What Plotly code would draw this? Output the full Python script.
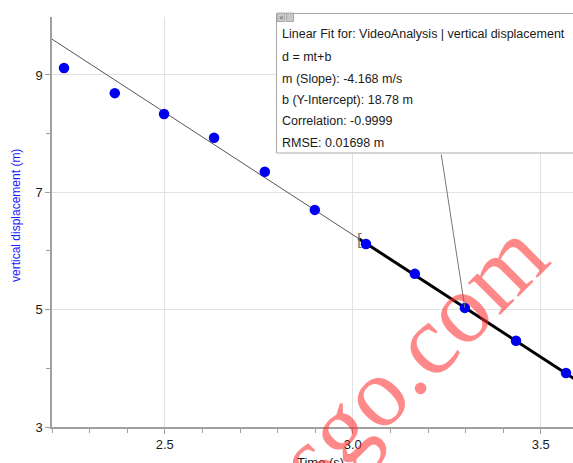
import plotly.graph_objects as go

# Video-analysis samples: time (s) and vertical displacement (m)
time_s = [2.232, 2.367, 2.498, 2.631, 2.766, 2.899, 3.035, 3.165, 3.298, 3.434, 3.567]
displacement_m = [9.12, 8.69, 8.335, 7.93, 7.35, 6.70, 6.12, 5.61, 5.03, 4.47, 3.92]

# Linear fit parameters d = m t + b
slope = -4.168
intercept = 18.78
correlation = -0.9999
rmse = 0.01698

x_range = [2.2, 3.5856]
y_range = [3.0, 9.988]
fit_start = 3.015           # start of the selected fit region
fit_span_all = [2.2, 3.6]
fit_span_sel = [fit_start, 3.6]
linked_point = 8            # sample that the fit box points to

box_lines = [
    "Linear Fit for: VideoAnalysis | vertical displacement",
    "d = mt+b",
    f"m (Slope): {slope:.3f} m/s",
    f"b (Y-Intercept): {intercept:.2f} m",
    f"Correlation: {correlation:.4f}",
    f"RMSE: {rmse:.5f} m",
]

W, H = 573, 463
ML, MR, MT, MB = 52, 0, 17, 36
PW, PH = W - ML - MR, H - MT - MB


def px_x(px):
    return (px - ML) / PW


def px_y(py):
    return (H - MB - py) / PH


def fit(t):
    return slope * t + intercept


FONT = "Liberation Sans, Arial, sans-serif"

fig = go.Figure()

# full-range fit line (thin) and selected-region fit (thick)
fig.add_trace(go.Scatter(
    x=fit_span_all, y=[fit(t) for t in fit_span_all], mode="lines",
    line=dict(color="#555555", width=1), hoverinfo="skip", showlegend=False))
fig.add_trace(go.Scatter(
    x=fit_span_sel, y=[fit(t) for t in fit_span_sel], mode="lines",
    line=dict(color="black", width=3), hoverinfo="skip", showlegend=False))

fig.add_trace(go.Scatter(
    x=time_s, y=displacement_m, mode="markers",
    marker=dict(color="#0000ee", size=10.5, line=dict(width=0)),
    showlegend=False, cliponaxis=False))

shapes = [
    # fit results box
    dict(type="rect", xref="paper", yref="paper",
         x0=px_x(276.5), x1=px_x(600), y0=px_y(153), y1=px_y(13.5),
         fillcolor="white", line=dict(color="#a8a8a8", width=1), layer="above"),
    # window buttons in the box corner
    dict(type="rect", xref="paper", yref="paper",
         x0=px_x(277), x1=px_x(285), y0=px_y(21.5), y1=px_y(13),
         fillcolor="#c8c8c8", line=dict(color="#9a9a9a", width=0.8), layer="above"),
    dict(type="rect", xref="paper", yref="paper",
         x0=px_x(286.5), x1=px_x(293.5), y0=px_y(21.5), y1=px_y(13),
         fillcolor="#c8c8c8", line=dict(color="#9a9a9a", width=0.8), layer="above"),
]

annotations = []

# connector from the box to the linked sample
annotations.append(dict(
    x=time_s[linked_point], y=displacement_m[linked_point], xref="x", yref="y",
    ax=3.2346, ay=7.67, axref="x", ayref="y", text="", showarrow=True,
    arrowhead=0, arrowwidth=1, arrowcolor="#777777", standoff=0, startstandoff=0))

# bracket marking the start of the fit region
annotations.append(dict(
    x=fit_start, y=fit(fit_start), xref="x", yref="y", text="[",
    showarrow=False, xanchor="center", yanchor="middle", yshift=-1, xshift=1,
    font=dict(family=FONT, size=17, color="#777777")))

line_y = [34, 57, 79, 100, 121, 143]
for txt, py in zip(box_lines, line_y):
    annotations.append(dict(
        x=px_x(279.5), y=px_y(py), xref="paper", yref="paper", text=txt,
        showarrow=False, xanchor="left", yanchor="middle",
        font=dict(family=FONT, size=12.5, color="#1a1a1a")))

annotations.append(dict(
    x=px_x(281), y=px_y(17.5), xref="paper", yref="paper", text="×",
    showarrow=False, xanchor="center", yanchor="middle",
    font=dict(family=FONT, size=8, color="#666666")))

# axis titles
annotations.append(dict(
    x=px_x(16), y=px_y(216), xref="paper", yref="paper",
    text="vertical displacement (m)", textangle=-90, showarrow=False,
    xanchor="center", yanchor="middle",
    font=dict(family=FONT, size=12, color="#1a1aff")))
annotations.append(dict(
    x=px_x(320), y=px_y(453), xref="paper", yref="paper", text="Time (s)",
    showarrow=False, xanchor="center", yanchor="top",
    font=dict(family=FONT, size=13, color="#1a1a1a")))

# site watermark
annotations.append(dict(
    x=px_x(411), y=px_y(356), xref="paper", yref="paper", text="sgo.com",
    textangle=-45, showarrow=False, xanchor="center", yanchor="middle",
    font=dict(family="Liberation Serif, Times New Roman, serif", size=99,
              color="rgba(255,40,40,0.55)")))

fig.update_layout(
    width=W, height=H,
    margin=dict(l=ML, r=MR, t=MT, b=MB, pad=0),
    paper_bgcolor="white", plot_bgcolor="white",
    shapes=shapes, annotations=annotations,
    font=dict(family=FONT, size=13, color="#1a1a1a"),
    xaxis=dict(
        range=x_range, tick0=2.5, dtick=0.5, tickformat=".1f",
        showgrid=True, gridcolor="#e2e2e2", gridwidth=1, zeroline=False,
        showline=True, linecolor="#a0a0a0", linewidth=1.5,
        ticks="outside", ticklen=5, tickcolor="#a0a0a0", tickwidth=1,
        minor=dict(dtick=0.1, tick0=2.5, ticks="outside", ticklen=4,
                   tickcolor="#a0a0a0", showgrid=False),
        tickfont=dict(family=FONT, size=13, color="#1a1a1a"),
    ),
    yaxis=dict(
        range=y_range, tick0=3, dtick=2,
        showgrid=True, gridcolor="#e2e2e2", gridwidth=1, zeroline=False,
        showline=True, linecolor="#a0a0a0", linewidth=1.5,
        ticks="outside", ticklen=5, tickcolor="#a0a0a0", tickwidth=1,
        minor=dict(dtick=1, tick0=3, ticks="outside", ticklen=4,
                   tickcolor="#a0a0a0", showgrid=False),
        tickfont=dict(family=FONT, size=13, color="#1a1a1a"),
    ),
)

fig.write_html("out.html")
